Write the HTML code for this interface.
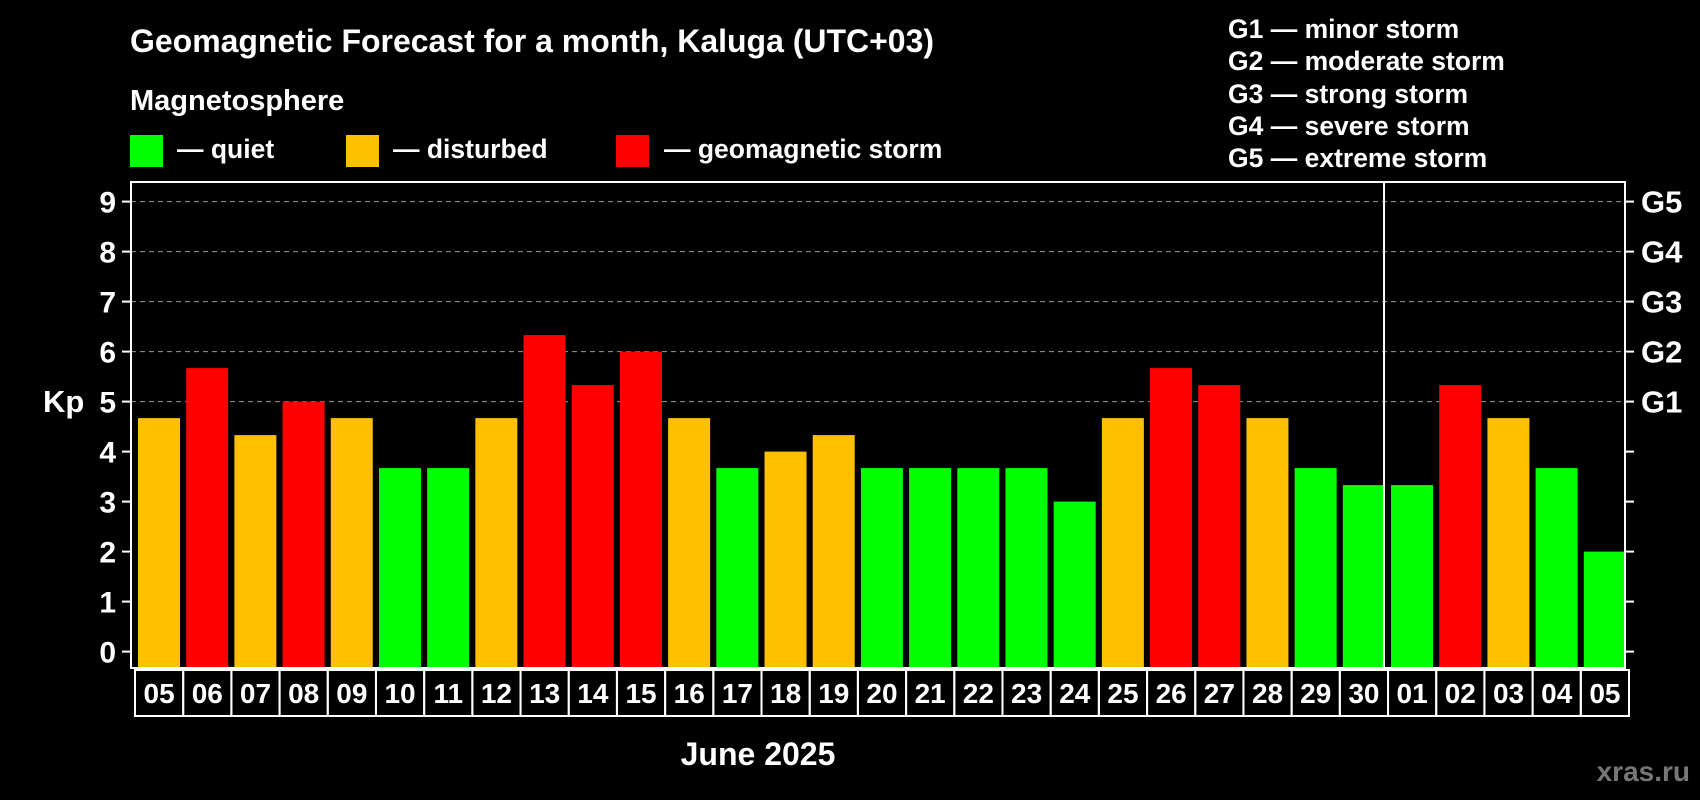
<!DOCTYPE html>
<html><head><meta charset="utf-8"><style>
html,body{margin:0;padding:0;background:#000;}
svg{display:block;font-family:"Liberation Sans",Arial,sans-serif;font-weight:bold;}
</style></head><body>
<svg id="chart" width="1700" height="800" viewBox="0 0 1700 800" xmlns="http://www.w3.org/2000/svg">
<rect x="0" y="0" width="1700" height="800" fill="#000"/>
<text x="130" y="52" fill="#fff" font-size="32" textLength="804" lengthAdjust="spacingAndGlyphs">Geomagnetic Forecast for a month, Kaluga (UTC+03)</text>
<text x="130" y="110" fill="#fff" font-size="29">Magnetosphere</text>
<g><rect x="130" y="135" width="33" height="32" fill="#00ff00"/><text x="177" y="158" fill="#fff" font-size="26.5">— quiet</text></g>
<g><rect x="346" y="135" width="33" height="32" fill="#ffc000"/><text x="393" y="158" fill="#fff" font-size="26.5">— disturbed</text></g>
<g><rect x="616" y="135" width="33" height="32" fill="#ff0000"/><text x="664" y="158" fill="#fff" font-size="26.5">— geomagnetic storm</text></g>
<g fill="#fff" font-size="26.5">
<text x="1228" y="38">G1 — minor storm</text>
<text x="1228" y="70">G2 — moderate storm</text>
<text x="1228" y="103">G3 — strong storm</text>
<text x="1228" y="135">G4 — severe storm</text>
<text x="1228" y="167">G5 — extreme storm</text>
</g>
<g id="grid"></g>
<g id="bars"></g>
<rect x="131" y="182" width="1494" height="486" fill="none" stroke="#fff" stroke-width="2"/>
<g id="axes"></g>
<text x="43" y="412" fill="#fff" font-size="31">Kp</text>
<text x="758" y="765" fill="#fff" font-size="32" text-anchor="middle">June 2025</text>
<text x="1690" y="781" fill="#777" font-size="28" text-anchor="end">xras.ru</text>
</svg>
<script>
const days = ["05","06","07","08","09","10","11","12","13","14","15","16","17","18","19","20","21","22","23","24","25","26","27","28","29","30","01","02","03","04","05"];
const kpValues = [4.67,5.67,4.33,5,4.67,3.67,3.67,4.67,6.33,5.33,6,4.67,3.67,4,4.33,3.67,3.67,3.67,3.67,3,4.67,5.67,5.33,4.67,3.67,3.33,3.33,5.33,4.67,3.67,2];
const yTicks = [0,1,2,3,4,5,6,7,8,9];
const gLabels = ["G1","G2","G3","G4","G5"];
const gLevels = [5,6,7,8,9];
const monthBreakIndex = 26;

const NS = "http://www.w3.org/2000/svg";
const L = 131, R = 1625, T = 182, B = 668;
const y0 = 651.6, unit = 50;
const band = (R - L) / days.length;
function yScale(v){ return y0 - v * unit; }
function xScale(i){ return L + i * band; }
function mk(tag, attrs, parent){ const e = document.createElementNS(NS, tag); for (const k in attrs) e.setAttribute(k, attrs[k]); parent.appendChild(e); return e; }
function color(v){ return v >= 5 ? "#ff0000" : (v >= 4 ? "#ffc000" : "#00ff00"); }

const grid = document.getElementById("grid");
gLevels.forEach(v => {
  const ln = mk("line", {x1: L, x2: R, y1: yScale(v), y2: yScale(v), stroke: "#999", "stroke-width": 1, "stroke-dasharray": "5,4"}, grid);
  
  
});

const bars = document.getElementById("bars");
kpValues.forEach((v, i) => {
  const r = mk("rect", {x: xScale(i) + 7, y: yScale(v), width: band - 6.2, height: B - yScale(v), fill: color(v)}, bars);
  
  
});

const axes = document.getElementById("axes");
const sep = mk("line", {x1: xScale(monthBreakIndex), x2: xScale(monthBreakIndex), y1: T, y2: B, stroke: "#fff", "stroke-width": 2}, axes);


yTicks.forEach(v => {
  const t1 = mk("line", {x1: 122, x2: L, y1: yScale(v), y2: yScale(v), stroke: "#fff", "stroke-width": 2}, axes);
  
  
  const t2 = mk("line", {x1: R, x2: R + 9, y1: yScale(v), y2: yScale(v), stroke: "#fff", "stroke-width": 2}, axes);
  
  
  const tx = mk("text", {x: 116, y: yScale(v) + 11, fill: "#fff", "font-size": 30, "text-anchor": "end"}, axes);
  tx.textContent = v;
  
  
});
gLevels.forEach((v, i) => {
  const tx = mk("text", {x: 1641, y: yScale(v) + 11, fill: "#fff", "font-size": 31}, axes);
  tx.textContent = gLabels[i];
  
  
});
days.forEach((d, i) => {
  const bx = mk("rect", {x: xScale(i) + 4, y: 670, width: band, height: 46, fill: "none", stroke: "#fff", "stroke-width": 2}, axes);
  
  
  const tx = mk("text", {x: xScale(i) + 4 + band / 2, y: 703, fill: "#fff", "font-size": 28, "text-anchor": "middle"}, axes);
  tx.textContent = d;
  
  
});
</script>
</body></html>
